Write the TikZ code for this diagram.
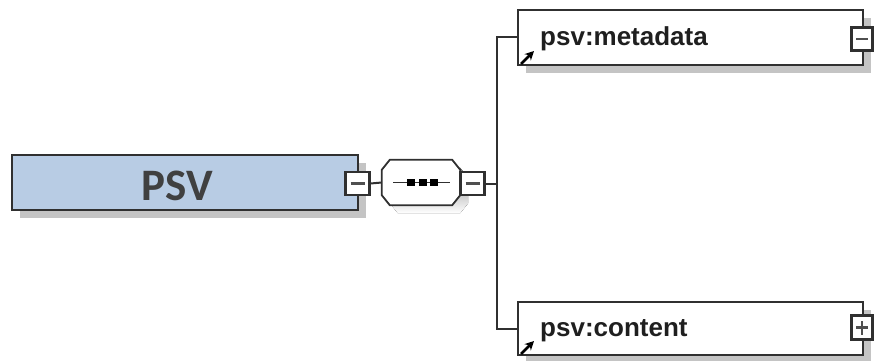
\documentclass[tikz,border=0pt]{standalone}
\usepackage{fontspec}
\setmainfont{Liberation Sans}
\newfontfamily\carl{Carlito}
\usetikzlibrary{shadows,arrows.meta,calc}
\definecolor{boxblue}{HTML}{B8CCE4}
\definecolor{edge}{HTML}{303030}
\definecolor{shade}{HTML}{C4C4C4}
\tikzset{
  x=1pt,y=1pt,
  shd/.style={drop shadow={shadow xshift=8pt,shadow yshift=-8pt,fill=shade,opacity=1}},
  elbox/.style={draw=edge,line width=2.4pt,fill=white,rectangle,inner sep=0pt,shd},
  tog/.style={draw=edge,line width=2.2pt,fill=white,rectangle,inner sep=0pt,minimum width=24pt,minimum height=23pt},
  togbar/.style={draw=edge!85,line width=2.4pt},
  conn/.style={draw=edge,line width=2pt},
  lbl/.style={font=\bfseries\fontsize{26}{26}\selectfont,text=black!88,anchor=base west,inner sep=0pt},
  refarrow/.style={-{Stealth[length=9pt,width=9pt]},line width=2.6pt,black}
}
\newcommand\octpath[3]{($(#1.north west)+(8+#2,#3)$) -- ($(#1.north east)+(-8+#2,#3)$) -- ($(#1.north east)+(#2,-10+#3)$) -- ($(#1.south east)+(#2,10+#3)$) -- ($(#1.south east)+(-8+#2,#3)$) -- ($(#1.south west)+(8+#2,#3)$) -- ($(#1.south west)+(#2,10+#3)$) -- ($(#1.north west)+(#2,-10+#3)$) -- cycle}
\begin{document}
\begin{tikzpicture}
\useasboundingbox (0,0) rectangle (875,-361);
% root element
\node[elbox,fill=boxblue,minimum width=346pt,minimum height=55pt] (psv) at (185,-182.5) {};
\node[font=\carl\bfseries\fontsize{45}{45}\selectfont,text=black!75,inner sep=0pt] (psvt) at (177,-186) {PSV};
\node[tog] (psvm) at (357.5,-183.5) {};
\draw[togbar] ([xshift=-7pt]psvm.center) -- ([xshift=7pt]psvm.center);
% sequence compositor
\node[rectangle,minimum width=78pt,minimum height=45pt,inner sep=0pt] (seq) at (421,-182.5) {};
\fill[shade] \octpath{seq}{8}{-8};
\filldraw[draw=edge,fill=white,line width=1.8pt] \octpath{seq}{0}{0};
\draw[edge,line width=1.8pt] ([xshift=-28pt]seq.center) -- ([xshift=29pt]seq.center);
\foreach \dx in {-10,1.5,13} \fill[black] ([xshift=\dx pt]seq.center) ++(-4,-3.5) rectangle ++(8,7);
\node[tog] (seqm) at (472.5,-183.5) {};
\draw[togbar] ([xshift=-7pt]seqm.center) -- ([xshift=7pt]seqm.center);
% children
\node[elbox,minimum width=345pt,minimum height=55pt] (meta) at (690.5,-37.5) {};
\node[elbox,minimum width=345pt,minimum height=53pt] (cont) at (690.5,-328.5) {};
\node[lbl] (metat) at (540,-46) {psv:metadata};
\node[lbl] (contt) at (540,-336) {psv:content};
\node[tog,minimum width=21pt] (metam) at (862,-39) {};
\draw[togbar] ([xshift=-6pt]metam.center) -- ([xshift=6pt]metam.center);
\node[tog,minimum width=21pt,minimum height=24pt] (contm) at (862,-327.5) {};
\draw[togbar] ([xshift=-6pt]contm.center) -- ([xshift=6pt]contm.center);
\draw[togbar] ([yshift=-7pt]contm.center) -- ([yshift=7pt]contm.center);
% reference arrows
\coordinate (ma0) at (521,-64); \coordinate (ma1) at (534,-51);
\coordinate (ca0) at (521,-354); \coordinate (ca1) at (534,-341);
\draw[refarrow] (ma0) -- (ma1);
\draw[refarrow] (ca0) -- (ca1);
% connectors
\coordinate (bus) at (497,-183.5);
\draw[conn] (psvm.east) -- (seq.west);
\draw[conn] (seqm.east) -- (bus);
\draw[conn] (meta.west) -| (bus) |- (cont.west);
\end{tikzpicture}
\end{document}
